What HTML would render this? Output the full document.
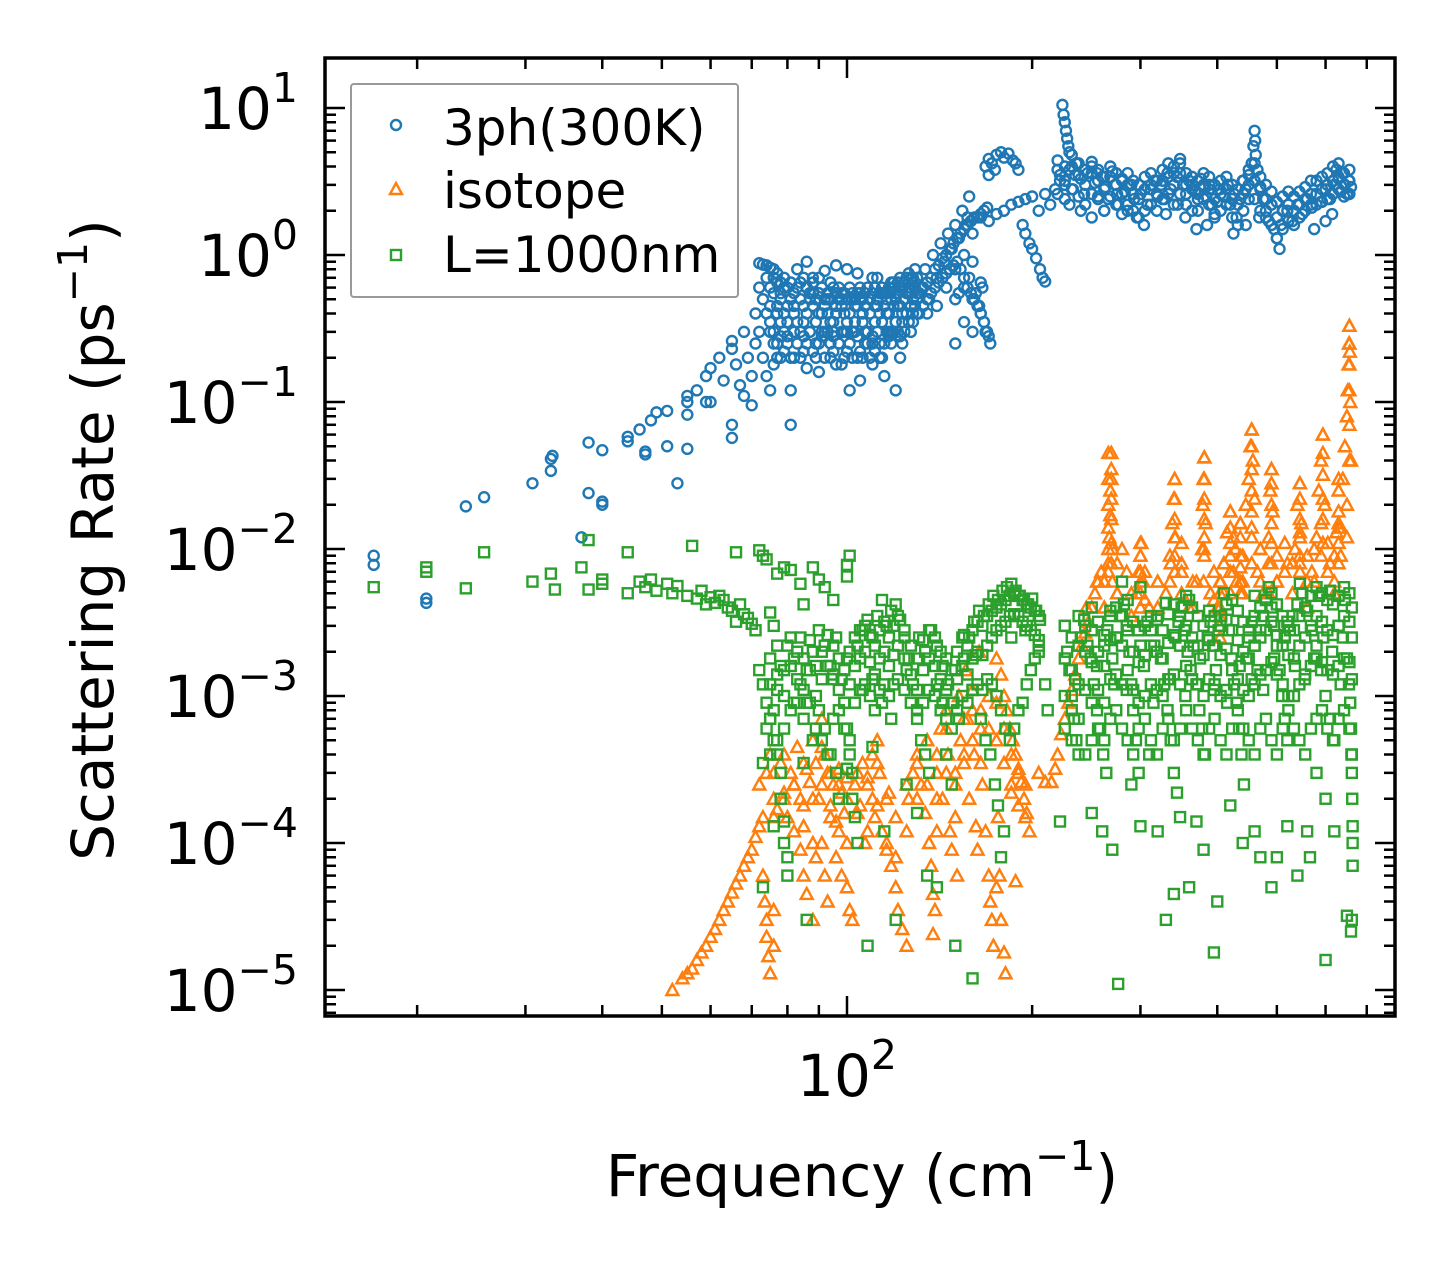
<!DOCTYPE html>
<html><head><meta charset="utf-8"><style>
html,body{margin:0;padding:0;background:#fff;}
svg text{font-family:"DejaVu Sans","Liberation Sans",sans-serif;}
</style></head><body>
<svg id="chart" width="1455" height="1265" viewBox="0 0 1455 1265" xmlns="http://www.w3.org/2000/svg">
<rect width="1455" height="1265" fill="#fff"/>
<g id="marks"></g>
<g id="axes"></g>
<text x="862" y="1196" font-size="58" text-anchor="middle">Frequency (cm<tspan font-size="41" dy="-26">−1</tspan><tspan dy="26">)</tspan></text>
<text transform="translate(113,540) rotate(-90)" font-size="58" text-anchor="middle">Scattering Rate (ps<tspan font-size="41" dy="-26">−1</tspan><tspan dy="26">)</tspan></text>
<g>
<rect x="351" y="84" width="387" height="213" rx="3" fill="#fff" fill-opacity="0.8" stroke="#999" stroke-width="2"/>
<circle cx="396" cy="125" r="5" fill="none" stroke="#1f77b4" stroke-width="2.4"/>
<text x="443" y="145" font-size="50">3ph(300K)</text>
<polygon points="396,183 402,194 390,194" fill="none" stroke="#ff7f0e" stroke-width="2.4"/>
<text x="443" y="208" font-size="50">isotope</text>
<rect x="391" y="250" width="10" height="10" fill="none" stroke="#2ca02c" stroke-width="2.4"/>
<text x="443" y="272" font-size="50">L=1000nm</text>
</g>
</svg>
<script>
const threePhFreq=[17,17,20.7,20.7,24,25.7,30.8,33,33,33.2,37,38,38,40,40,40,44,44,46,47,47,48,49,51,51,53,55,55,55,55,57,59,59,60,60,62,63,65,65,65,65,66,67,68,68,69,70,70,71,71,
72,73,74,75,76,77,72,73,74,75,76,77,78,72,73,74,75,76,78,79,79,78,77,74,80,80,81,81,82,82,
84,85,86,87,88,89,90,90,91,92,93,94,95,96,97,98,99,100,100,101,102,103,104,105,106,107,108,109,110,111,112,113,114,115,116,117,118,119,120,121,122,123,124,125,126,127,128,129,130,83,86,88,92,96,104,112,118,86,90,94,98,105,110,120,122,85,95,
132,134,136,138,140,142,144,146,148,150,152,154,156,158,157,140,145,135,150,155,160,160,
150,152,155,158,160,162,164,165,166,167,168,170,171,165,160,155,150,
168,170,172,175,178,180,183,186,188,190,170,174,
165,170,175,180,185,190,193,195,198,200,203,206,208,210,195,200,205,210,214,218,222,
224,225,226,227,228,229,230,
222,226,230,233,236,240,243,246,250,253,256,260,263,266,270,273,276,280,283,286,290,293,296,300,304,308,312,230,240,250,262,235,255,275,
316,320,324,328,332,336,340,344,348,352,356,360,330,345,355,364,368,372,376,380,384,388,392,396,400,370,385,
404,410,416,420,426,430,436,440,445,450,455,458,460,461,462,465,470,475,480,485,490,495,500,505,508,512,425,445,468,
520,530,540,550,560,570,580,590,600,610,620,625,630,635,640,645,650,655,660,600,615,575];
const threePhRate=[.009,.0078,.0046,.0043,.0195,.0225,.028,.034,.041,.043,.012,.053,.024,.047,.02,.021,.054,.058,.065,.044,.046,.075,.085,.087,.05,.028,.11,.1,.082,.048,.12,.15,.1,.17,.1,.2,.14,.07,.057,.23,.26,.18,.13,.3,.11,.2,.15,.095,.25,.4,
.88,.86,.85,.82,.8,.75,.6,.5,.4,.35,.3,.25,.2,.3,.2,.15,.12,.18,.5,.4,.3,.65,.45,.7,.28,.35,.12,.07,.45,.2,
.5,.35,.6,.3,.45,.25,.55,.7,.4,.3,.5,.65,.35,.45,.25,.55,.4,.8,.3,.12,.5,.35,.2,.6,.4,.3,.25,.5,.7,.35,.45,.2,.55,.15,.4,.3,.5,.65,.35,.45,.6,.25,.5,.4,.55,.7,.35,.6,.5,.8,.9,.7,.78,.85,.75,.7,.6,.17,.16,.2,.18,.14,.18,.12,.2,.22,.28,
.6,.8,.5,1.0,.7,1.2,.9,1.4,1.1,1.6,1.3,2.0,1.6,2.5,1.8,.45,.6,.4,.8,1.0,1.4,.9,
.5,.55,.6,.7,.5,.55,.45,.4,.6,.35,.3,.28,.25,.65,.3,.35,.25,
4.0,4.5,4.2,4.8,5.0,4.6,4.9,4.4,4.2,3.8,3.5,3.8,
1.8,1.7,1.9,2.0,2.2,2.3,1.6,1.4,1.2,1.1,.95,.8,.7,.66,2.4,2.5,2.0,2.6,2.2,2.8,3.2,
10.5,9.0,8.0,7.0,6.2,5.5,5.0,
3.5,3.0,3.8,2.8,4.2,3.3,2.6,3.6,4.0,3.1,2.5,3.4,2.9,2.4,3.7,3.0,2.2,3.3,2.7,2.0,3.0,2.4,1.8,2.6,1.6,2.2,2.8,2.2,2.0,1.8,2.0,3.5,3.6,2.6,
3.2,2.5,3.0,2.4,3.6,2.8,4.0,3.4,4.5,3.0,2.6,3.2,1.9,2.2,1.8,3.0,2.7,2.4,3.3,2.9,2.5,3.0,2.2,1.8,2.3,1.5,1.6,
2.8,2.5,3.0,2.2,2.6,1.8,2.4,3.2,2.8,3.5,4.2,5.5,7.0,6.0,4.8,3.8,2.9,2.4,2.0,1.7,2.2,1.5,1.3,1.1,1.6,2.0,1.4,1.6,1.8,
2.0,1.7,2.2,1.9,2.4,2.1,2.6,2.3,2.8,2.4,3.0,3.8,3.3,2.7,3.6,3.0,2.6,3.2,2.9,1.7,1.9,1.5];
// dense 3ph band 75-130 cm-1
const bandFreq=[75,76,77,78,79,80,81,82,83,84,85,86,87,88,89,90,91,92,93,94,95,96,97,98,99,100,101,102,103,104,105,106,107,108,109,110,111,112,113,114,115,116,117,118,119,120,121,122,123,124,125,126,127,128,129,130];
const bandRateA=[.45,.55,.4,.35,.6,.45,.5,.4,.35,.3,.45,.4,.5,.55,.35,.4,.3,.45,.4,.35,.3,.4,.5,.45,.3,.35,.4,.3,.45,.55,.5,.35,.45,.3,.4,.25,.45,.5,.4,.35,.45,.55,.4,.3,.45,.5,.55,.45,.4,.5,.55,.6,.45,.5,.65,.55];
const bandRateB=[.3,.25,.2,.28,.22,.25,.2,.3,.25,.2,.28,.25,.3,.22,.2,.25,.28,.2,.3,.25,.22,.18,.25,.3,.2,.22,.25,.2,.3,.28,.22,.2,.25,.3,.2,.28,.22,.3,.25,.2,.25,.3,.28,.25,.3,.35,.3,.28,.35,.3,.4,.35,.3,.4,.45,.4];
const bandRateC=[.6,.7,.65,.55,.7,.6,.65,.55,.6,.65,.7,.6,.55,.65,.5,.55,.6,.5,.55,.5,.6,.55,.6,.5,.55,.5,.6,.55,.5,.45,.55,.5,.55,.6,.5,.55,.6,.5,.55,.6,.55,.5,.6,.65,.6,.55,.65,.7,.6,.65,.7,.75,.6,.7,.8,.7];
const riseFreq=[131,133,135,137,139,141,143,145,147,149,151,153,155,157,159,161,163,165,167,169];
const riseRateA=[.55,.6,.65,.7,.8,.85,.95,1.0,1.1,1.2,1.3,1.4,1.5,1.6,1.7,1.8,1.8,1.9,2.0,2.1];
const riseRateB=[.4,.45,.5,.55,.6,.65,.7,.75,.8,.85,.9,.8,.7,.6,.55,.5,.45,.4,.35,.3];
const hiFreq=[220,226,232,238,244,250,256,262,268,274,280,286,292,298,305,312,319,326,333,340,348,356,364,372,380,388,396,405,414,423,432,441,450,460,470,480,490,500,511,522,533,544,556,568,580,592,604,617,630,643,656];
const hiRateA=[3.8,3.2,4.0,3.5,3.0,3.6,3.2,2.8,3.4,3.0,2.6,3.0,2.6,2.4,2.8,3.0,2.6,3.2,3.4,3.0,3.6,3.0,2.8,2.6,3.0,2.8,2.4,2.6,2.8,2.4,2.2,2.6,3.0,3.2,2.8,2.4,2.2,1.8,2.0,2.2,2.0,2.2,2.4,2.6,2.6,2.8,3.0,3.2,3.4,3.0,3.2];
const hiRateB=[2.6,2.4,2.8,2.5,2.2,2.6,2.4,2.0,2.5,2.2,1.9,2.2,2.0,1.8,2.0,2.2,2.0,2.4,2.6,2.2,2.6,2.2,2.0,2.0,2.4,2.2,1.9,2.0,2.2,1.8,1.6,2.0,2.4,2.4,2.0,1.8,1.6,1.3,1.5,1.7,1.6,1.8,2.0,2.2,2.2,2.3,2.4,2.6,2.8,2.5,2.6];
const hiRateC=[4.4,4.0,4.8,4.2,3.8,4.3,3.8,3.4,4.0,3.6,3.2,3.6,3.2,3.0,3.4,3.6,3.2,3.8,4.2,3.6,4.2,3.6,3.4,3.2,3.6,3.4,3.0,3.2,3.4,3.0,2.8,3.2,3.8,4.2,3.4,3.0,2.7,2.3,2.5,2.7,2.5,2.7,2.9,3.2,3.2,3.4,3.6,4.0,4.2,3.6,3.8];

const isotopeFreq=[52,54,55,56,57,58,59,60,61,62,63,64,65,66,67,68,69,70,71,72,73,
73,73.5,74,74,74.5,75,76,76,
72,74,75,76,77,78,79,80,81,82,83,84,85,86,87,88,89,90,91,92,93,94,95,96,97,98,99,100,
84,85,86,88,89,91,92,93,96,98,100,101,102,
103,105,106,108,110,111,113,114,116,117,118,120,121,123,125,110,112,107,
126,128,130,132,134,135,136,137,138,140,142,143,145,146,147,148,150,151,152,153,155,156,157,158,160,161,162,163,164,165,140,138,139,
166,168,170,171,172,173,175,177,178,180,181,176,180,182,184,186,188,190,192,194,196,198,188,185,175,178,
205,210,215,218,220,223,226,229,232,235,238,241,244,247,250,253,256,259,
266,267,268,268,269,269,270,270,
296,298,300,301,303,
336,338,340,341,342,
378,379,380,381,383,
405,410,415,420,428,436,445,450,453,455,457,460,
485,488,490,492,
535,540,545,548,
580,585,590,594,598,
630,640,645,650,652,654,655,656,657,658,660,
245,255,275,285,310,320,330,350,360,370,390,400,430,440,465,475,500,520,560,570,610,620,280,350,470,625,560];
const isotopeRate=[1.0e-5,1.2e-5,1.3e-5,1.4e-5,1.6e-5,1.8e-5,2e-5,2.3e-5,2.6e-5,3e-5,3.5e-5,4e-5,4.6e-5,5.3e-5,6e-5,7e-5,8e-5,9e-5,1.1e-4,1.3e-4,1.5e-4,
6e-5,4e-5,3e-5,2.3e-5,1.7e-5,1.3e-5,2e-5,3.5e-5,
2.5e-4,3e-4,4e-4,2e-4,1.7e-4,3.5e-4,2.2e-4,1.5e-4,3e-4,2.5e-4,4.5e-4,2e-4,1.3e-4,3.2e-4,2.6e-4,5e-4,3.5e-4,2e-4,7e-4,4e-4,3e-4,1.8e-4,2.5e-4,1.4e-4,3.2e-4,2.2e-4,1.6e-4,2.8e-4,
9e-5,6e-5,4.5e-5,3e-5,8e-5,1e-4,6e-5,4e-5,8e-5,6e-5,5e-5,3.5e-5,3e-5,
2.5e-4,1.8e-4,3.5e-4,2.8e-4,2e-4,1.5e-4,3e-4,1.2e-4,9e-5,2.2e-4,7e-5,5e-5,3.5e-5,2.6e-5,2e-5,4e-4,5e-4,1e-4,
2e-4,3e-4,4e-4,2.5e-4,1.6e-4,5e-4,1e-4,7e-5,4.5e-5,3e-4,6e-4,2e-4,8e-4,4e-4,1.2e-4,9e-5,2.5e-4,6e-5,1e-3,5e-4,3.5e-4,1.5e-3,7e-4,2e-4,1.1e-3,4e-4,1.3e-4,9e-5,2e-3,8e-4,1.2e-4,2.4e-5,3.5e-5,
2.5e-4,1.2e-4,6e-5,4e-5,3e-5,2e-5,5e-5,6e-5,3e-5,1.8e-5,1.3e-5,1.5e-4,1e-3,8e-4,6e-4,5e-4,4e-4,3.2e-4,2.6e-4,2e-4,1.6e-4,1.2e-4,5.5e-5,2.2e-4,1.8e-3,1.4e-3,
3e-4,2.6e-4,2.6e-4,3.2e-4,4e-4,5.5e-4,7e-4,9e-4,1.1e-3,1.4e-3,1.8e-3,2.2e-3,2.7e-3,3.2e-3,4e-3,5e-3,6e-3,7e-3,
8e-3,1.2e-2,1.7e-2,2.5e-2,3.5e-2,4.5e-2,1e-2,6e-3,
5e-3,7e-3,9e-3,1.1e-2,6e-3,
8e-3,1.5e-2,2.2e-2,3e-2,1.2e-2,
1e-2,2e-2,3e-2,4.2e-2,1.5e-2,
6e-3,8e-3,1.3e-2,1.8e-2,1e-2,1.5e-2,2e-2,3e-2,5e-2,6.5e-2,4e-2,2.2e-2,
1.2e-2,2.5e-2,3.5e-2,1.8e-2,
1e-2,2e-2,2.8e-2,1.5e-2,
1.2e-2,2.5e-2,4e-2,6e-2,2e-2,
1.5e-2,3e-2,5e-2,8e-2,.12,.18,.25,.33,.22,.1,4e-2,
4e-3,6e-3,5e-3,7e-3,4e-3,6e-3,5e-3,7e-3,4e-3,6e-3,5e-3,4e-3,6e-3,5e-3,7e-3,5e-3,6e-3,8e-3,6e-3,7e-3,8e-3,5e-3,1e-2,1.1e-2,1e-2,1.3e-2,4e-3];
// isotope spike columns
const isoColFreq=[266,269,300,341,381,404,420,436,455,490,545,594,630,656];
const isoColR1=[.045,.045,.011,.03,.042,.006,.018,.015,.065,.035,.028,.06,.03,.33];
const isoColR2=[.03,.03,.009,.022,.03,.005,.014,.012,.05,.028,.022,.045,.025,.25];
const isoColR3=[.02,.022,.007,.016,.022,.004,.011,.009,.035,.02,.016,.032,.018,.18];
const isoColR4=[.014,.016,.006,.012,.016,.0035,.009,.0075,.025,.015,.012,.022,.014,.12];
const isoColR5=[.01,.011,.005,.009,.012,.003,.007,.006,.018,.011,.009,.016,.011,.07];
const isoColR6=[.007,.008,.004,.007,.009,.0025,.005,.005,.012,.008,.007,.011,.008,.04];
const isoLowFreq=[76,79,82,85,88,91,94,97,100,104,108,112,116,120,125,130,135,140,145,150,155,160,165,170,175,180,185,190,195];
const isoLowA=[3e-4,4e-4,2.5e-4,3.5e-4,2e-4,4.5e-4,3e-4,2.5e-4,2e-4,3e-4,2.5e-4,3.5e-4,2e-4,1.5e-4,2.5e-4,3.5e-4,5e-4,4e-4,6e-4,3e-4,7e-4,8e-4,6e-4,1e-3,9e-4,6e-4,4e-4,3e-4,2.5e-4];
const isoLowB=[1.5e-4,2e-4,1.2e-4,1.8e-4,1e-4,2.5e-4,1.5e-4,1.2e-4,1e-4,1.6e-4,1.2e-4,1.8e-4,1e-4,8e-5,1.2e-4,2e-4,2.5e-4,2e-4,3e-4,1.5e-4,4e-4,5e-4,3.5e-4,6e-4,5e-4,3.5e-4,2.5e-4,1.8e-4,1.5e-4];
const isoHiFreq=[262,275,290,305,320,335,350,365,380,395,410,425,440,455,470,485,500,515,530,545,560,575,590,605,620,635,650];
const isoHiA=[6e-3,8e-3,5e-3,7e-3,6e-3,9e-3,8e-3,6e-3,1e-2,7e-3,8e-3,1.2e-2,9e-3,1.4e-2,1e-2,8e-3,9e-3,1.1e-2,8e-3,1.3e-2,9e-3,1e-2,1.5e-2,1.1e-2,9e-3,1.4e-2,2e-2];
const isoHiB=[4e-3,5e-3,3.5e-3,4.5e-3,4e-3,6e-3,5e-3,4e-3,6e-3,4.5e-3,5e-3,7e-3,6e-3,8e-3,6e-3,5e-3,6e-3,7e-3,5e-3,8e-3,6e-3,6e-3,9e-3,7e-3,6e-3,9e-3,1.2e-2];

const boundaryFreq=[17,20.7,20.7,24,25.7,30.8,33,33.5,37,38,38,40,40,44,44,46,47,48,49,51,52,53,55,56,57,58,59,60,61,62,63,64,65,66,67,68,69,70,71,72,73,74,66,75,76,77,79,81,84,85,88,90,92,95,100,100,101,
72,73,74,75,76,77,78,78,79,79,80,80,76,74,75,73,77,78,80,82,84,86,88,90,92,94,96,98,99,100,101,102,102,103,104,100,104,106,108,110,112,114,116,118,120,122,124,126,128,130,132,134,136,131,134,137,140,143,146,149,152,155,158,161,164,167,170,173,176,179,182,185,188,191,194,197,200,203,206,90,92,94,96,97,84,86,88,106,110,114,118,140,143,150,160,165,168,171,174,176,180,145,148,85,110,115,125,130,135,120,150,160,178,76,73,108,86,140,100,95,82,125,155,162,185,195,205,210,
212,222,
226,228,230,232,234,236,238,240,243,246,249,252,255,258,261,264,262,265,268,270,272,275,278,280,282,285,288,290,292,295,298,300,304,308,312,316,320,324,328,332,336,340,344,348,342,346,350,354,358,362,366,370,374,378,382,386,390,394,398,402,406,410,414,418,422,426,430,434,438,442,446,450,455,460,465,470,475,480,485,490,495,500,505,510,515,520,525,530,540,550,560,570,580,590,600,610,620,630,640,650,655,658,660,661,662,663,664,664,664,662,660,650,600,580,560,540,520,500,490,470,460,440,420,400,395,380,370,360,340,330,320,310,300,290,276,270,260,250,600,620,566,
235,255,285,315,335,355,375,395,415,435,455,475,495,515,535,555,575,595,615,635,645,520,545,610,585,360,300,330,250,460];
const boundaryRate=[.0055,.0075,.007,.0054,.0095,.006,.0068,.0053,.0075,.0115,.0053,.0062,.0058,.0095,.005,.006,.0055,.0062,.0052,.0058,.005,.0056,.0048,.0105,.0046,.0052,.0042,.0047,.0043,.0048,.0045,.004,.0038,.0032,.0042,.0036,.0034,.0031,.0028,.0098,.009,.0085,.0095,.0037,.003,.0068,.0075,.0072,.0058,.0042,.0075,.0062,.0055,.0045,.0078,.0065,.009,
.0015,.0012,.0009,.0007,.0005,.0004,.0003,.0002,.00014,.0001,.00008,.00006,.0008,.0006,.0004,.00035,.0011,.0016,.0022,.0018,.0025,.0015,.002,.0028,.0022,.0016,.0025,.0013,.0009,.0006,.0004,.0003,.0002,.00015,.0001,.0018,.0022,.0028,.0033,.0025,.0035,.0045,.003,.0038,.0042,.0033,.0025,.0018,.0012,.0008,.0005,.0004,.0003,.0025,.002,.0028,.0022,.0016,.0012,.0009,.0007,.0018,.0025,.0032,.0038,.0035,.0042,.0048,.0045,.0052,.0055,.0058,.0052,.0048,.0045,.0042,.0046,.0038,.0033,.0008,.0006,.0004,.0003,.0002,.0012,.0009,.0005,.0011,.0013,.0009,.0007,.0012,.0009,.0015,.0011,.0007,.0005,.0004,.00025,.00018,.00012,.0004,.00025,.00035,.00045,.00012,.00025,.00016,.00006,.00003,.00002,.000012,.00008,.00013,.00005,.00002,.00003,.00005,.00032,.0013,.0009,.0015,.0026,.0019,.0025,.0028,.0022,.0012,
.0008,.00014,
.003,.002,.0015,.001,.0007,.0005,.0004,.0025,.0033,.0022,.0018,.0012,.0008,.0006,.0004,.0003,.0022,.0028,.0035,.0018,.0012,.0025,.0035,.006,.0042,.003,.002,.0012,.0008,.0005,.0003,.0022,.0016,.0032,.0028,.0022,.0035,.0018,.0012,.0008,.0005,.0003,.00022,.00015,.0025,.0032,.004,.0028,.002,.0015,.0022,.0012,.0008,.0006,.0004,.0025,.0032,.0022,.0015,.0028,.0035,.005,.0042,.0028,.0018,.0012,.0009,.0006,.0004,.00025,.0018,.0025,.0032,.0022,.0015,.0028,.0035,.0045,.0055,.004,.003,.0022,.0015,.001,.0007,.0005,.0028,.0035,.0042,.005,.0038,.0028,.0022,.0015,.001,.0007,.0005,.003,.0025,.0018,.0012,.0009,.0006,.0004,.0003,.0002,.00013,.0001,.00007,.00003,.000025,.000032,.0002,.0003,.00012,.00006,.00013,.00008,.00005,.00008,.00012,.0001,.00018,.00004,.000018,.00009,.00014,.00005,.000045,.00003,.00012,.0004,.00013,.00025,.000011,.00009,.00012,.00016,.000016,.00012,.00008,
.0013,.0016,.0011,.0009,.0013,.001,.0018,.0011,.0009,.0016,.0013,.0011,.0018,.0025,.0016,.0013,.0018,.0025,.002,.0012,.0045,.0032,.0058,.0052,.0048,.0045,.0055,.0043,.004,.0048];
const bLowFreq=[75,77,79,81,83,85,87,89,91,93,95,97,99,101,103,105,107,109,111,113,115,117,119,121,124,127,130,133,136,139,142,145,148,151,154,157,160,163,166,169,172,175,178,181,184,187,190,193,196,199,202,205];
const bLowA=[.0018,.0022,.0015,.0025,.002,.0018,.0024,.0016,.002,.0026,.0022,.0018,.0015,.002,.0025,.0028,.003,.0026,.0022,.0028,.0032,.0025,.003,.0035,.0028,.0022,.0018,.0024,.0028,.0025,.002,.0018,.0015,.002,.0025,.0022,.0028,.0032,.003,.0035,.0038,.004,.0042,.0045,.0048,.005,.0048,.0045,.0042,.004,.0038,.0035];
const bLowB=[.0012,.0014,.001,.0016,.0013,.0011,.0015,.001,.0013,.0016,.0014,.0011,.0009,.0012,.0016,.0018,.002,.0017,.0014,.0018,.002,.0016,.0019,.0022,.0018,.0014,.0011,.0015,.0018,.0016,.0013,.0011,.0009,.0013,.0016,.0014,.0018,.002,.0019,.0022,.0025,.0028,.003,.0032,.0035,.0036,.0035,.0032,.003,.0028,.0026,.0024];
const bLowC=[.0007,.0005,.0006,.0008,.0009,.0007,.0009,.0006,.0005,.0004,.0007,.0008,.0006,.0005,.0009,.0011,.0012,.001,.0008,.0011,.0012,.001,.0012,.0013,.0011,.0009,.0007,.0009,.0011,.001,.0008,.0007,.0006,.0008,.001,.0009,.0011,.0012,.0011,.0013,.0012,.001,.0008,.0006,.0005,.0006,.0008,.0009,.0012,.0015,.0018,.002];
const bHiFreq=[226,232,238,244,250,256,262,268,274,280,286,292,298,305,312,319,326,333,340,348,356,364,372,380,388,396,405,414,423,432,441,450,460,470,480,490,500,511,522,533,544,556,568,580,592,604,617,630,643,656,662];
const bHiA=[.003,.0025,.0035,.003,.0028,.0032,.0026,.0038,.004,.0035,.0045,.0032,.0028,.003,.0035,.0033,.0028,.0036,.0042,.0035,.0048,.004,.0035,.003,.0038,.0035,.003,.0033,.0045,.0038,.0032,.0028,.0035,.004,.0045,.005,.0042,.0035,.003,.0028,.0035,.004,.0048,.0055,.005,.0045,.0042,.0048,.0055,.005,.004];
const bHiB=[.0018,.0015,.0022,.002,.0017,.002,.0016,.0024,.0025,.0022,.0028,.002,.0017,.0019,.0022,.002,.0018,.0023,.0026,.0022,.003,.0025,.0022,.0019,.0024,.0022,.0019,.0021,.0028,.0024,.002,.0018,.0022,.0025,.0028,.0032,.0026,.0022,.0019,.0018,.0022,.0025,.003,.0035,.0032,.0028,.0026,.003,.0035,.0032,.0025];
const bHiC=[.001,.0008,.0012,.0011,.0009,.0011,.0009,.0013,.0014,.0012,.0015,.0011,.0009,.001,.0012,.0011,.001,.0013,.0014,.0012,.0016,.0013,.0012,.001,.0013,.0012,.001,.0011,.0015,.0013,.0011,.001,.0012,.0014,.0015,.0017,.0014,.0012,.001,.001,.0012,.0014,.0016,.0018,.0017,.0015,.0014,.0016,.0018,.0017,.0013];
const bHiD=[.0006,.0005,.0007,.0004,.0005,.0006,.0005,.0007,.0008,.0006,.0005,.0004,.0006,.0007,.0005,.0004,.0006,.0007,.0005,.0006,.0008,.0006,.0005,.0004,.0006,.0007,.0005,.0004,.0006,.0008,.0006,.0005,.0004,.0006,.0007,.0005,.0004,.0006,.0008,.0006,.0005,.0004,.0006,.0007,.0008,.0006,.0005,.0007,.0008,.0006,.0004];

const xTickMinor=[20,30,40,50,60,70,80,90,200,300,400,500,600,700];
const yExponents=[1,0,-1,-2,-3,-4,-5];

const NS='http://www.w3.org/2000/svg';
const X0=325,X1=1395,Y0=58,Y1=1016;
function xScale(f){return 847+615*Math.log10(f/100);}
function yScale(r){return 255-147*Math.log10(r);}
function mk(tag,attrs,parent){const e=document.createElementNS(NS,tag);for(const k in attrs)e.setAttribute(k,attrs[k]);parent.appendChild(e);return e;}
const marks=document.getElementById('marks');
const axes=document.getElementById('axes');
const clip=mk('clipPath',{id:'pc'},marks);mk('rect',{x:X0,y:Y0,width:X1-X0,height:Y1-Y0},clip);
const gB=mk('g',{'clip-path':'url(#pc)',fill:'none',stroke:'#1f77b4','stroke-width':2.4},marks);


const gI=mk('g',{'clip-path':'url(#pc)',fill:'none',stroke:'#ff7f0e','stroke-width':2.4},marks);


const gG=mk('g',{'clip-path':'url(#pc)',fill:'none',stroke:'#2ca02c','stroke-width':2.4},marks);


function circles(fr,rr){fr.forEach((f,i)=>{const c=mk('circle',{cx:xScale(f),cy:yScale(rr[i]),r:5},gB);

});}
function tris(fr,rr){fr.forEach((f,i)=>{const x=xScale(f),y=yScale(rr[i]);const p=mk('polygon',{points:`${x},${y-6} ${x+6},${y+5} ${x-6},${y+5}`},gI);

});}
function squares(fr,rr){fr.forEach((f,i)=>{const x=xScale(f),y=yScale(rr[i]);const s=mk('rect',{x:x-5,y:y-5,width:10,height:10},gG);

});}
circles(threePhFreq,threePhRate);
[bandRateA,bandRateB,bandRateC].forEach(r=>circles(bandFreq,r));
[riseRateA,riseRateB].forEach(r=>circles(riseFreq,r));
[hiRateA,hiRateB,hiRateC].forEach(r=>circles(hiFreq,r));
tris(isotopeFreq,isotopeRate);
[isoColR1,isoColR2,isoColR3,isoColR4,isoColR5,isoColR6].forEach(r=>tris(isoColFreq,r));
[isoLowA,isoLowB].forEach(r=>tris(isoLowFreq,r));
[isoHiA,isoHiB].forEach(r=>tris(isoHiFreq,r));
squares(boundaryFreq,boundaryRate);
[bLowA,bLowB,bLowC].forEach(r=>squares(bLowFreq,r));
[bHiA,bHiB,bHiC,bHiD].forEach(r=>squares(bHiFreq,r));
// frame
const fr=mk('rect',{x:X0,y:Y0,width:X1-X0,height:Y1-Y0,fill:'none',stroke:'#000','stroke-width':3.5},axes);


function xt(f,len){const x=xScale(f);
const a=mk('line',{x1:x,x2:x,y1:Y1,y2:Y1-len,stroke:'#000','stroke-width':2.5},axes);


const b=mk('line',{x1:x,x2:x,y1:Y0,y2:Y0+len,stroke:'#000','stroke-width':2.5},axes);

}
xTickMinor.forEach(f=>xt(f,11));
xt(100,20);
const xl=mk('text',{x:847,y:1096,'font-size':58,'text-anchor':'middle'},axes);


xl.innerHTML='10<tspan font-size="41" dy="-27">2</tspan>';
yExponents.forEach(e=>{
  const y=yScale(Math.pow(10,e));
  [[X0,X0+20],[X1,X1-20]].forEach(([a,b])=>{const l=mk('line',{x1:a,x2:b,y1:y,y2:y,stroke:'#000','stroke-width':2.5},axes);
  
  });
  for(let m=2;m<=9;m++){const yy=yScale(m*Math.pow(10,e-1));if(yy<Y0||yy>Y1)continue;
    [[X0,X0+11],[X1,X1-11]].forEach(([a,b])=>{const l=mk('line',{x1:a,x2:b,y1:yy,y2:yy,stroke:'#000','stroke-width':2.5},axes);
    
    });}
  const t=mk('text',{x:298,y:y+21,'font-size':58,'text-anchor':'end'},axes);
  
  
  t.innerHTML='10<tspan font-size="41" dy="-27">'+(e<0?'−'+(-e):e)+'</tspan>';
});
</script>
</body></html>
